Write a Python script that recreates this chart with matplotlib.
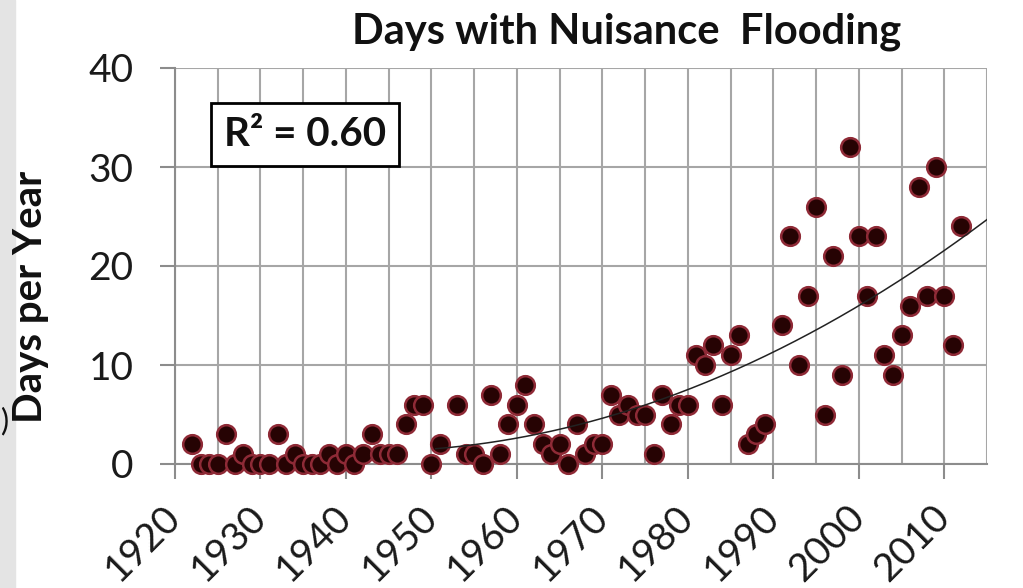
import numpy as np
import matplotlib
matplotlib.use("Agg")
import matplotlib.pyplot as plt
from matplotlib.patches import Rectangle

plt.rcParams['font.family'] = ['Lato', 'DejaVu Sans']

# Yearly counts (1952 and 1990 have no point)
years = [1922, 1923, 1924, 1925, 1926, 1927, 1928, 1929, 1930, 1931,
         1932, 1933, 1934, 1935, 1936, 1937, 1938, 1939, 1940, 1941,
         1942, 1943, 1944, 1945, 1946, 1947, 1948, 1949, 1950, 1951,
         1953, 1954, 1955, 1956, 1957, 1958, 1959, 1960, 1961, 1962,
         1963, 1964, 1965, 1966, 1967, 1968, 1969, 1970, 1971, 1972,
         1973, 1974, 1975, 1976, 1977, 1978, 1979, 1980, 1981, 1982,
         1983, 1984, 1985, 1986, 1987, 1988, 1989, 1991, 1992, 1993,
         1994, 1995, 1996, 1997, 1998, 1999, 2000, 2001, 2002, 2003,
         2004, 2005, 2006, 2007, 2008, 2009, 2010, 2011, 2012]
days = [2, 0, 0, 0, 3, 0, 1, 0, 0, 0,
        3, 0, 1, 0, 0, 0, 1, 0, 1, 0,
        1, 3, 1, 1, 1, 4, 6, 6, 0, 2,
        6, 1, 1, 0, 7, 1, 4, 6, 8, 4,
        2, 1, 2, 0, 4, 1, 2, 2, 7, 5,
        6, 5, 5, 1, 7, 4, 6, 6, 11, 10,
        12, 6, 11, 13, 2, 3, 4, 14, 23, 10,
        17, 26, 5, 21, 9, 32, 23, 17, 23, 11,
        9, 13, 16, 28, 17, 30, 17, 12, 24]

x_ticks = [1920, 1930, 1940, 1950, 1960, 1970, 1980, 1990, 2000, 2010]
y_ticks = [0, 10, 20, 30, 40]
r2_label = "R² = 0.60"

yr = np.array(years)
dy = np.array(days)

# trend line (fitted on the later part, drawn out to 2015)
mask = yr >= 1950
coef = np.polyfit(yr[mask], dy[mask], 2)
trend_x = np.linspace(1950.5, 2015, 300)
trend_y = np.polyval(coef, trend_x)

fig = plt.figure(figsize=(10.23, 5.88), dpi=100)
fig.patches.append(Rectangle((0, 0), 15/1023, 1, transform=fig.transFigure,
                             color='#e4e4e4', zorder=0))
ax = fig.add_axes([175/1023, 1-464/588, 812/1023, 396/588])

grid_c = '#a6a6a6'
ax.set_xlim(1920, 2015)
ax.set_ylim(0, 40)
ax.set_xticks(x_ticks)
ax.set_xticks(np.arange(1925, 2016, 5), minor=True)
ax.set_yticks(y_ticks)
ax.grid(True, which='both', color=grid_c, linewidth=1.5)
ax.set_axisbelow(True)
for s in ['top', 'right']:
    ax.spines[s].set_visible(False)
for s in ['left', 'bottom']:
    ax.spines[s].set_color('#8c8c8c')
    ax.spines[s].set_linewidth(1.5)
ax.tick_params(axis='both', which='major', length=11, width=1.5, color='#8c8c8c',
               labelsize=28, labelcolor='#1a1a1a')
ax.tick_params(axis='x', which='minor', length=0)
ax.tick_params(axis='y', pad=19)
ax.tick_params(axis='x', pad=23)
for lab in ax.get_xticklabels():
    lab.set_rotation(45)
    lab.set_ha('right')
    lab.set_va('center')
    lab.set_rotation_mode('anchor')

ax.scatter(yr, dy, s=230, color='#f0b0b8', alpha=0.6, linewidths=0, zorder=3,
           clip_on=False)
ax.scatter(yr, dy, s=180, facecolor='#260303', edgecolor='#8e2a36', linewidths=1.8,
           zorder=4, clip_on=False)
ax.plot(trend_x, trend_y, color='#222222', linewidth=1.1, zorder=5)

ax.text(0.16, 0.832, r2_label, transform=ax.transAxes, ha='center', va='center',
        fontsize=29, fontweight='bold', color='#111111', zorder=6,
        bbox=dict(boxstyle='square,pad=0.33', facecolor='white', edgecolor='black',
                  linewidth=2))

fig.text(627/1023, 1-32/588, "Days with Nuisance  Flooding", ha='center', va='center',
         fontsize=30, fontweight='bold', color='#111111')
fig.text(31/1023, 1-297/588, "Days per Year", rotation=90, ha='center', va='center',
         fontsize=29, fontweight='bold', color='#111111')
fig.text(0.0, 1-421/588, ")", ha='left', va='center', fontsize=22, color='#111111')

fig.savefig("out.png", dpi=100)
